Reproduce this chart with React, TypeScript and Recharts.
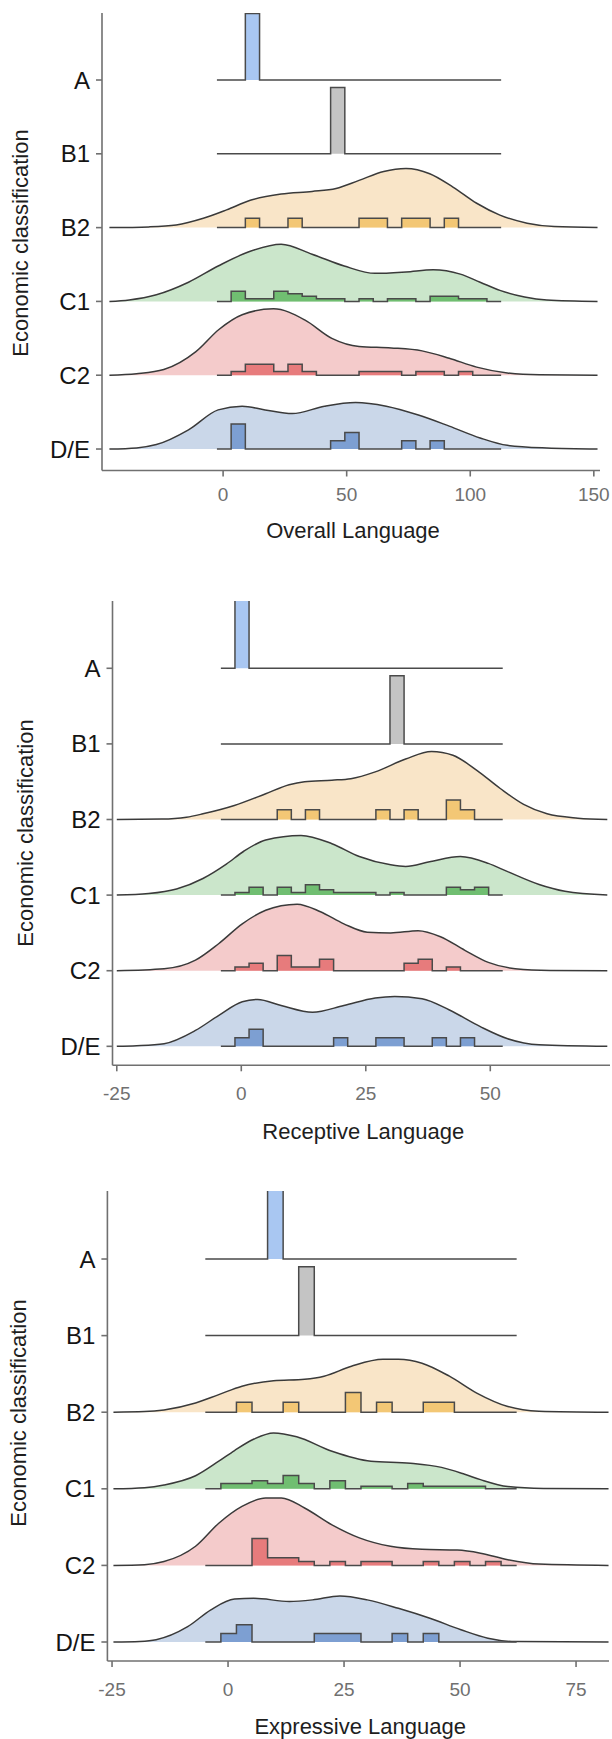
import React from 'react';
import { ComposedChart, Area, XAxis, YAxis } from 'recharts';

type Pt = [number, number];

// ---------- categories ----------
const categories = ['A', 'B1', 'B2', 'C1', 'C2', 'D/E'];
const groupSizes = [1, 1, 7, 26, 18, 8];

// ---------- tick labels ----------
const overallTicks = [0, 50, 100, 150];
const receptiveTicks = [-25, 0, 25, 50];
const expressiveTicks = [-25, 0, 25, 50, 75];

// ---------- Overall Language ----------
const overallBinStart = -2.5;
const overallBinWidth = 5.75;
const overallCountsA = [0, 0, 1, 0, 0, 0, 0, 0, 0, 0, 0, 0, 0, 0, 0, 0, 0, 0, 0, 0];
const overallCountsB1 = [0, 0, 0, 0, 0, 0, 0, 0, 1, 0, 0, 0, 0, 0, 0, 0, 0, 0, 0, 0];
const overallCountsB2 = [0, 0, 1, 0, 0, 1, 0, 0, 0, 0, 1, 1, 0, 1, 1, 0, 1, 0, 0, 0];
const overallCountsC1 = [0, 4, 1, 1, 4, 3, 2, 1, 1, 0, 1, 0, 1, 1, 0, 2, 2, 1, 1, 0];
const overallCountsC2 = [0, 1, 3, 3, 1, 3, 1, 0, 0, 0, 1, 1, 1, 0, 1, 1, 0, 1, 0, 0];
const overallCountsDE = [0, 3, 0, 0, 0, 0, 0, 0, 1, 2, 0, 0, 0, 1, 0, 1, 0, 0, 0, 0];

const overallDensB2: Pt[] = [[-46, 0], [-30, 0.01], [-19, 0.036], [-8, 0.126], [1.4, 0.24], [11, 0.37], [23.5, 0.455], [36, 0.49], [45.7, 0.53], [55, 0.64], [65, 0.76], [74, 0.8], [83.6, 0.73], [93, 0.55], [102.6, 0.33], [112, 0.17], [123, 0.06], [134, 0.014], [151.5, 0]];
const overallDensC1: Pt[] = [[-46, 0], [-38, 0.02], [-27, 0.09], [-14, 0.26], [-2, 0.48], [11, 0.68], [23.5, 0.775], [36, 0.64], [49, 0.48], [61.5, 0.38], [74, 0.4], [85, 0.43], [96, 0.37], [104, 0.26], [112, 0.15], [122, 0.06], [131, 0.02], [151.5, 0]];
const overallDensC2: Pt[] = [[-46, 0], [-35, 0.02], [-24, 0.077], [-11, 0.32], [-1.7, 0.62], [7.7, 0.82], [20.4, 0.9], [33, 0.75], [44, 0.5], [55, 0.39], [68, 0.37], [80.5, 0.33], [91.5, 0.23], [102.6, 0.11], [115, 0.03], [128, 0.005], [151.5, 0]];
const overallDensDE: Pt[] = [[-46, 0], [-35, 0.015], [-27, 0.06], [-14, 0.26], [-2, 0.53], [7.7, 0.58], [17, 0.53], [28, 0.48], [41, 0.58], [53.6, 0.63], [66, 0.58], [79, 0.46], [91.5, 0.31], [104, 0.15], [115, 0.05], [131, 0.014], [151.5, 0]];

// ---------- Receptive Language ----------
const receptiveBinStart = -4.1;
const receptiveBinWidth = 2.83;
const receptiveCountsA = [0, 1, 0, 0, 0, 0, 0, 0, 0, 0, 0, 0, 0, 0, 0, 0, 0, 0, 0, 0];
const receptiveCountsB1 = [0, 0, 0, 0, 0, 0, 0, 0, 0, 0, 0, 0, 1, 0, 0, 0, 0, 0, 0, 0];
const receptiveCountsB2 = [0, 0, 0, 0, 1, 0, 1, 0, 0, 0, 0, 1, 0, 1, 0, 0, 2, 1, 0, 0];
const receptiveCountsC1 = [0, 1, 3, 0, 3, 1, 4, 2, 1, 1, 1, 0, 1, 0, 0, 0, 3, 2, 3, 0];
const receptiveCountsC2 = [0, 1, 2, 0, 4, 1, 1, 3, 0, 0, 0, 0, 0, 2, 3, 0, 1, 0, 0, 0];
const receptiveCountsDE = [0, 1, 2, 0, 0, 0, 0, 0, 1, 0, 0, 1, 1, 0, 0, 1, 0, 1, 0, 0];

const receptiveDensB2: Pt[] = [[-25, 0], [-16, 0.005], [-11, 0.03], [-7.7, 0.075], [-1.4, 0.185], [4.9, 0.34], [9.6, 0.46], [12.7, 0.5], [18.2, 0.52], [22, 0.54], [26.9, 0.63], [33, 0.8], [38.2, 0.9], [42.5, 0.85], [47.3, 0.65], [52, 0.41], [56.7, 0.2], [61.4, 0.075], [67.6, 0.018], [73.5, 0]];
const receptiveDensC1: Pt[] = [[-25, 0], [-18.6, 0.02], [-13, 0.08], [-7.7, 0.22], [-3, 0.41], [0.5, 0.58], [4.9, 0.73], [12, 0.79], [18.2, 0.68], [23.7, 0.51], [30, 0.4], [33, 0.38], [37.8, 0.44], [44, 0.51], [49.6, 0.42], [53.5, 0.31], [59.8, 0.14], [65, 0.05], [73.5, 0]];
const receptiveDensC2: Pt[] = [[-25, 0], [-15.5, 0.026], [-9.2, 0.14], [-4.5, 0.36], [0.2, 0.62], [4.9, 0.8], [8, 0.86], [11.2, 0.88], [15.9, 0.78], [20.6, 0.62], [25.3, 0.51], [30, 0.5], [35.5, 0.53], [40, 0.45], [44.9, 0.27], [49.6, 0.11], [55, 0.026], [62, 0.003], [73.5, 0]];
const receptiveDensDE: Pt[] = [[-25, 0], [-21, 0.008], [-15.5, 0.035], [-9.2, 0.21], [-4.5, 0.41], [0.2, 0.59], [3.3, 0.62], [8, 0.54], [14.3, 0.45], [20.6, 0.54], [26.9, 0.64], [30.8, 0.66], [36.3, 0.63], [41.8, 0.48], [48, 0.26], [53.5, 0.1], [59.8, 0.02], [73.5, 0]];

// ---------- Expressive Language ----------
const expressiveBinStart = -4.9;
const expressiveBinWidth = 3.355;
const expressiveCountsA = [0, 0, 0, 0, 1, 0, 0, 0, 0, 0, 0, 0, 0, 0, 0, 0, 0, 0, 0, 0];
const expressiveCountsB1 = [0, 0, 0, 0, 0, 0, 1, 0, 0, 0, 0, 0, 0, 0, 0, 0, 0, 0, 0, 0];
const expressiveCountsB2 = [0, 0, 1, 0, 0, 1, 0, 0, 0, 2, 0, 1, 0, 0, 1, 1, 0, 0, 0, 0];
const expressiveCountsC1 = [0, 2, 2, 3, 2, 5, 2, 0, 3, 0, 1, 1, 0, 2, 1, 1, 1, 1, 0, 0];
const expressiveCountsC2 = [0, 0, 0, 7, 2, 2, 1, 0, 1, 0, 1, 1, 0, 0, 1, 0, 1, 0, 1, 0];
const expressiveCountsDE = [0, 1, 2, 0, 0, 0, 0, 1, 1, 1, 0, 0, 1, 0, 1, 0, 0, 0, 0, 0];

const expressiveDensB2: Pt[] = [[-24.7, 0], [-18, 0.008], [-13.8, 0.03], [-7, 0.12], [-2, 0.23], [3, 0.34], [9.8, 0.41], [16.5, 0.43], [20.7, 0.47], [26.6, 0.6], [33.4, 0.69], [36.7, 0.69], [41.8, 0.64], [47.7, 0.47], [53.6, 0.25], [60.3, 0.074], [67, 0.013], [82, 0]];
const expressiveDensC1: Pt[] = [[-24.7, 0], [-18, 0.015], [-13.8, 0.05], [-7, 0.17], [-2, 0.36], [1.4, 0.5], [5.6, 0.65], [9.8, 0.73], [14.8, 0.68], [22.4, 0.49], [30.8, 0.36], [39.3, 0.335], [46, 0.28], [51, 0.19], [54.4, 0.12], [60.3, 0.03], [68, 0.005], [82, 0]];
const expressiveDensC2: Pt[] = [[-24.7, 0], [-18, 0.01], [-13.8, 0.05], [-7, 0.25], [-2, 0.55], [3, 0.77], [8.1, 0.88], [11.5, 0.88], [16.5, 0.75], [22.4, 0.53], [28.3, 0.36], [35, 0.25], [41.8, 0.21], [49.4, 0.2], [54.4, 0.16], [60.3, 0.074], [67, 0.017], [82, 0]];
const expressiveDensDE: Pt[] = [[-24.7, 0], [-19, 0.008], [-15.5, 0.03], [-8.7, 0.2], [-3.7, 0.42], [1.4, 0.56], [5.6, 0.57], [13.2, 0.53], [18.2, 0.55], [24.1, 0.6], [30, 0.55], [36.7, 0.44], [43.5, 0.31], [50.2, 0.16], [56, 0.05], [62, 0.005], [82, 0]];

// ---------- styles ----------
const FONT = '"Liberation Sans", Arial, Helvetica, sans-serif';
const RIDGE_SCALE = 0.9;
const histFill = ['#a9c7f2', '#c4c4c4', '#f3c775', '#70be71', '#e77b7c', '#7d9fd2'];
const densFill = ['none', 'none', '#f9e5c8', '#cbe6cb', '#f4cbcb', '#cad7e9'];
const AXIS = '#707070';
const OUTLINE = '#3a3a3a';
const HIST_LINE = '#4a4a4a';

interface PanelDef {
  title: string;
  ticks: number[];
  binStart: number;
  binWidth: number;
  counts: number[][];
  dens: (Pt[] | null)[];
  top: number;
  bottom: number;
  axisX: number;
  right: number;
  xDomain: [number, number];
  yDomain: [number, number];
  tickGap: number;
  titleBase: number;
  yTitleX: number;
  yTitleY: number;
}

const panels: PanelDef[] = [
  {
    title: 'Overall Language',
    ticks: overallTicks,
    binStart: overallBinStart,
    binWidth: overallBinWidth,
    counts: [overallCountsA, overallCountsB1, overallCountsB2, overallCountsC1, overallCountsC2, overallCountsDE],
    dens: [null, null, overallDensB2, overallDensC1, overallDensC2, overallDensDE],
    top: 13, bottom: 470.5, axisX: 102, right: 600,
    xDomain: [-49, 152.5], yDomain: [-0.291, 5.908],
    tickGap: 17.5, titleBase: 538, yTitleX: 28, yTitleY: 243,
  },
  {
    title: 'Receptive Language',
    ticks: receptiveTicks,
    binStart: receptiveBinStart,
    binWidth: receptiveBinWidth,
    counts: [receptiveCountsA, receptiveCountsB1, receptiveCountsB2, receptiveCountsC1, receptiveCountsC2, receptiveCountsDE],
    dens: [null, null, receptiveDensB2, receptiveDensC1, receptiveDensC2, receptiveDensDE],
    top: 600.7, bottom: 1065, axisX: 112.5, right: 610,
    xDomain: [-25.86, 74.04], yDomain: [-0.251, 5.89],
    tickGap: 21, titleBase: 1139, yTitleX: 33, yTitleY: 833,
  },
  {
    title: 'Expressive Language',
    ticks: expressiveTicks,
    binStart: expressiveBinStart,
    binWidth: expressiveBinWidth,
    counts: [expressiveCountsA, expressiveCountsB1, expressiveCountsB2, expressiveCountsC1, expressiveCountsC2, expressiveCountsDE],
    dens: [null, null, expressiveDensB2, expressiveDensC1, expressiveDensC2, expressiveDensDE],
    top: 1191, bottom: 1661, axisX: 107.4, right: 609,
    xDomain: [-26, 82.1], yDomain: [-0.248, 5.888],
    tickGap: 22, titleBase: 1734, yTitleX: 26, yTitleY: 1413,
  },
];

const rowOf = (i: number) => categories.length - 1 - i;

function histData(p: PanelDef, gi: number) {
  const counts = p.counts[gi];
  const n = groupSizes[gi];
  const base = rowOf(gi);
  const pts = counts.map((c, k) => ({ x: p.binStart + k * p.binWidth, y: base + (c / n) * RIDGE_SCALE }));
  pts.push({ x: p.binStart + counts.length * p.binWidth, y: base + (counts[counts.length - 1] / n) * RIDGE_SCALE });
  return pts;
}

function densData(d: Pt[], gi: number) {
  const base = rowOf(gi);
  return d.map(([x, h]) => ({ x, y: base + h }));
}

const TOP_PAD = 5;
const X_AXIS_H = 85;

function Panel({ p }: { p: PanelDef }) {
  const plotH = p.bottom - p.top;
  const height = TOP_PAD + plotH + X_AXIS_H;
  return (
    <div style={{ position: 'absolute', left: 0, top: p.top - TOP_PAD, width: 612, height }}>
      <ComposedChart
        width={612}
        height={height}
        margin={{ top: TOP_PAD, right: 612 - p.right, bottom: 0, left: 0 }}
      >
        <XAxis
          type="number"
          dataKey="x"
          domain={p.xDomain}
          ticks={p.ticks}
          interval={0}
          allowDataOverflow
          height={X_AXIS_H}
          tickSize={6}
          tickMargin={p.tickGap - 6}
          axisLine={{ stroke: AXIS, strokeWidth: 1.6 }}
          tickLine={{ stroke: AXIS, strokeWidth: 1.6 }}
          tick={{ fill: '#707070', fontSize: 19, fontFamily: FONT }}
        />
        <YAxis
          type="number"
          domain={p.yDomain}
          ticks={[5, 4, 3, 2, 1, 0]}
          interval={0}
          allowDataOverflow
          width={p.axisX}
          tickSize={6}
          tickMargin={6}
          tickFormatter={(v: number) => categories[categories.length - 1 - v]}
          axisLine={{ stroke: AXIS, strokeWidth: 1.6 }}
          tickLine={{ stroke: AXIS, strokeWidth: 1.6 }}
          tick={{ fill: '#141414', fontSize: 24, fontFamily: FONT }}
        />
        {p.dens.map((d, gi) =>
          d ? (
            <Area
              key={'d' + gi}
              data={densData(d, gi)}
              dataKey="y"
              type="monotoneX"
              baseValue={rowOf(gi)}
              fill={densFill[gi]}
              fillOpacity={1}
              stroke={OUTLINE}
              strokeWidth={1.5}
              dot={false}
              activeDot={false}
              isAnimationActive={false}
            />
          ) : null
        )}
        {p.counts.map((_, gi) => (
          <Area
            key={'h' + gi}
            data={histData(p, gi)}
            dataKey="y"
            type="stepAfter"
            baseValue={rowOf(gi)}
            fill={histFill[gi]}
            fillOpacity={1}
            stroke={HIST_LINE}
            strokeWidth={1.5}
            strokeLinejoin="miter"
            dot={false}
            activeDot={false}
            isAnimationActive={false}
          />
        ))}
      </ComposedChart>
    </div>
  );
}

export default function App() {
  return (
    <div style={{ position: 'absolute', left: 0, top: 0, width: 612, height: 1739, background: '#fff', fontFamily: FONT }}>
      {panels.map((p, i) => (
        <Panel key={i} p={p} />
      ))}
      <svg
        width={612}
        height={1739}
        style={{ position: 'absolute', left: 0, top: 0, pointerEvents: 'none' }}
      >
        {panels.map((p, i) => (
          <g key={i}>
            <text
              x={(p.axisX + p.right) / 2 + 2}
              y={p.titleBase}
              textAnchor="middle"
              fontSize={22}
              fontFamily={FONT}
              fill="#1e1e1e"
            >
              {p.title}
            </text>
            <text
              x={p.yTitleX}
              y={p.yTitleY}
              transform={`rotate(-90 ${p.yTitleX} ${p.yTitleY})`}
              textAnchor="middle"
              fontSize={22}
              fontFamily={FONT}
              fill="#1e1e1e"
            >
              Economic classification
            </text>
          </g>
        ))}
      </svg>
    </div>
  );
}
